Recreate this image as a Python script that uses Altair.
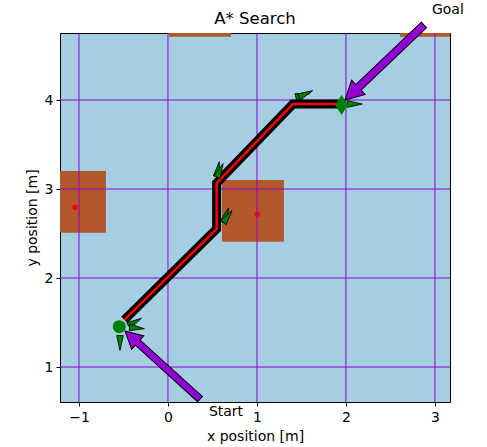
import math
import altair as alt
import pandas as pd

# ---- data ----
X_DOMAIN = [-1.213, 3.169]
Y_DOMAIN = [0.607, 4.753]
x_ticks = [-1, 0, 1, 2, 3]
y_ticks = [1, 2, 3, 4]
title_text = ["A* Search"]

obs_x0 = [-1.397, 0.607, 0.01, 2.607]
obs_x1 = [-0.697, 1.303, 0.71, 3.307]
obs_y0 = [2.509, 2.408, 4.711, 4.711]
obs_y1 = [3.202, 3.101, 5.41, 5.41]
obs_cx = [-1.045, 1.003, 0.36, 2.957]
obs_cy = [2.794, 2.716, 5.06, 5.06]

path_x = [-0.49, 0.547, 0.547, 1.404, 1.96]
path_y = [1.53, 2.551, 3.067, 3.955, 3.955]

heading_x = [-0.539, -0.371, -0.348, 0.562, 0.585, 0.652, 0.672, 1.517, 1.55, 2.101]
heading_y = [1.27, 1.506, 1.438, 3.225, 3.21, 2.708, 2.69, 4.056, 4.07, 3.955]
heading_angle = [180, 60, 95, 10, 25, 20, 35, 75, 65, 90]

start_x, start_y = [-0.547], [1.453]
goal_x, goal_y = [1.951], [3.944]

arrow_tail_x = [0.36, 2.876]
arrow_tail_y = [0.64, 4.843]
arrow_tip_x = [-0.483, 1.989]
arrow_tip_y = [1.404, 4.0]
label_text = ["Start", "Goal"]
label_x = [0.46, 2.966]
label_y = [0.498, 5.01]

W, H = 390, 369
PX_X = W / (X_DOMAIN[1] - X_DOMAIN[0])
PX_Y = H / (Y_DOMAIN[1] - Y_DOMAIN[0])

FONT = "DejaVu Sans"
BG = "#A6CEE3"
BROWN = "#B15928"
PURPLE = "#9400D3"
GREEN = "#008000"

xs = alt.Scale(domain=X_DOMAIN, nice=False, zero=False)
ys = alt.Scale(domain=Y_DOMAIN, nice=False, zero=False)

obs = pd.DataFrame({"x0": obs_x0, "x1": obs_x1, "y0": obs_y0, "y1": obs_y1,
                    "cx": obs_cx, "cy": obs_cy})
path = pd.DataFrame({"x": path_x, "y": path_y, "o": list(range(len(path_x)))})
heads = pd.DataFrame({"x": heading_x, "y": heading_y, "a": heading_angle})
gx = pd.DataFrame({"v": x_ticks})
gy = pd.DataFrame({"v": y_ticks})

rows = []
for tx, ty, hx, hy in zip(arrow_tail_x, arrow_tail_y, arrow_tip_x, arrow_tip_y):
    dx = (hx - tx) * PX_X
    dy = -(hy - ty) * PX_Y
    ang = math.degrees(math.atan2(dx, -dy)) % 360
    L = math.hypot(dx, dy)
    rows.append({"x": (tx + hx) / 2, "y": (ty + hy) / 2, "a": ang, "s": L * L})
arrows = pd.DataFrame(rows)
labels = pd.DataFrame({"t": label_text, "x": label_x, "y": label_y})

ARROW_SHAPE = ("M0,-1L0.18,-0.66L0.07,-0.66L0.07,1L-0.07,1L-0.07,-0.66"
               "L-0.18,-0.66Z")
HEAD_SHAPE = "M0,-1L0.45,1L-0.45,1Z"
DIAMOND = "M0,-1L0.65,0L0,1L-0.65,0Z"

X = lambda f: alt.X(f, type="quantitative", scale=xs,
                    axis=alt.Axis(values=x_ticks, title="x position [m]",
                                  labelExpr="replace(datum.label, '-', '\u2212')"))
Y = lambda f: alt.Y(f, type="quantitative", scale=ys,
                    axis=alt.Axis(values=y_ticks, title="y position [m]",
                                  labelPadding=3))

rects = alt.Chart(obs).mark_rect(color=BROWN, clip=True).encode(
    x=X("x0"), x2="x1", y=Y("y0"), y2="y1")
dots = alt.Chart(obs).mark_point(filled=True, color="red", size=30, opacity=1,
                                 clip=True).encode(x=X("cx"), y=Y("cy"))
gridx = alt.Chart(gx).mark_rule(color=PURPLE, strokeWidth=1).encode(x=X("v"))
gridy = alt.Chart(gy).mark_rule(color=PURPLE, strokeWidth=1).encode(y=Y("v"))
black = alt.Chart(path).mark_line(color="black", strokeWidth=9, clip=True).encode(
    x=X("x"), y=Y("y"), order="o")
red = alt.Chart(path).mark_line(color="red", strokeWidth=2.5, clip=True).encode(
    x=X("x"), y=Y("y"), order="o")
hd = alt.Chart(heads).mark_point(shape=HEAD_SHAPE, filled=True, fill=GREEN,
                                 stroke="black", strokeWidth=0.8, size=220,
                                 opacity=1).encode(
    x=X("x"), y=Y("y"), angle=alt.Angle("a:Q", scale=None))
st = alt.Chart(pd.DataFrame({"x": start_x, "y": start_y})).mark_point(
    shape="circle", filled=True, color=GREEN, size=170, opacity=1).encode(
    x=X("x"), y=Y("y"))
gl = alt.Chart(pd.DataFrame({"x": goal_x, "y": goal_y})).mark_point(
    shape=DIAMOND, filled=True, color=GREEN, size=400, opacity=1).encode(
    x=X("x"), y=Y("y"))
arr = alt.Chart(arrows).mark_point(shape=ARROW_SHAPE, filled=True, fill=PURPLE,
                                   stroke="black", strokeWidth=1, opacity=1,
                                   clip=False).encode(
    x=X("x"), y=Y("y"), angle=alt.Angle("a:Q", scale=None),
    size=alt.Size("s:Q", scale=None))
txt = alt.Chart(labels).mark_text(align="left", baseline="middle", font=FONT,
                                  fontSize=14, color="black", clip=False).encode(
    x=X("x"), y=Y("y"), text="t:N")
ttl = alt.Chart(pd.DataFrame({"t": title_text})).mark_text(
    align="center", baseline="alphabetic", font=FONT, fontSize=16.5,
    color="black", clip=False).encode(
    x=alt.value(W / 2), y=alt.value(-9), text="t:N")

chart = alt.layer(rects, dots, gridx, gridy, black, red, hd, st, gl, arr, txt, ttl).properties(
    width=W, height=H,
    autosize="none",
    background="white",
    padding={"left": 60, "top": 33, "right": 37, "bottom": 45},
).configure_view(fill=BG, stroke="black", strokeWidth=1).configure_axis(
    grid=False, domain=False, tickColor="black", tickSize=4, labelFont=FONT,
    labelFontSize=14, labelColor="black", titleFont=FONT, titleFontSize=14,
    titleFontWeight="normal", titleColor="black", labelPadding=4, titlePadding=5
)

chart.save("out.html", embed_options={"renderer": "svg", "actions": False})
